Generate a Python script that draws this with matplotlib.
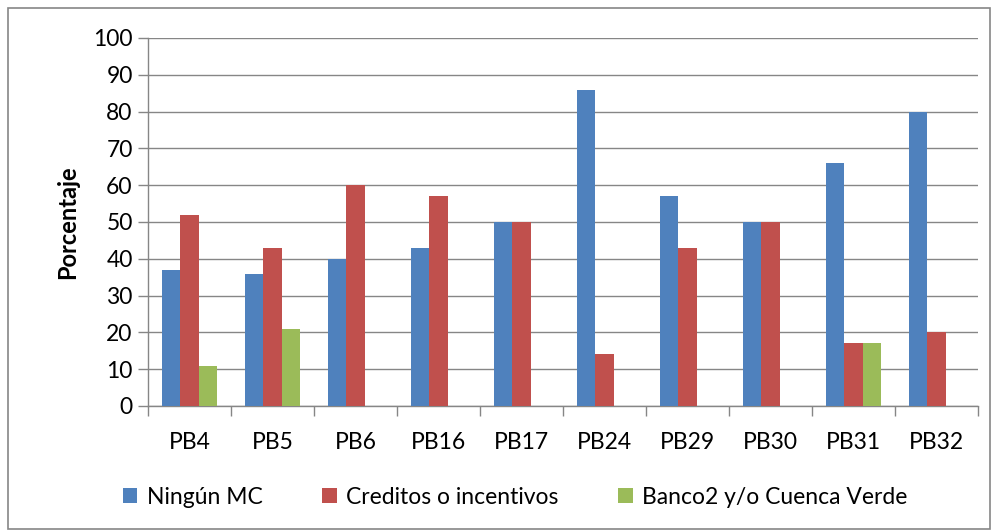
import numpy as np
import matplotlib.pyplot as plt
from matplotlib.patches import Rectangle

categories = ['PB4', 'PB5', 'PB6', 'PB16', 'PB17', 'PB24', 'PB29', 'PB30', 'PB31', 'PB32']
ningun = [37, 36, 40, 43, 50, 86, 57, 50, 66, 80]
creditos = [52, 43, 60, 57, 50, 14, 43, 50, 17, 20]
banco = [11, 21, 0, 0, 0, 0, 0, 0, 17, 0]
series_names = ['Ningún MC', 'Creditos o incentivos', 'Banco2 y/o Cuenca Verde']
colors = ['#4F81BD', '#C0504D', '#9BBB59']

plt.rcParams['font.family'] = ['Lato', 'DejaVu Sans']

fig = plt.figure(figsize=(9.93, 5.31), dpi=100)
ax = fig.add_axes([148 / 993, 1 - 406 / 531, (978 - 148) / 993, (406 - 38) / 531])

x = np.arange(len(categories))
w = 0.22
for i, (vals, name, c) in enumerate(zip([ningun, creditos, banco], series_names, colors)):
    ax.bar(x + (i - 1) * w, vals, w, color=c, label=name, zorder=3)

ax.set_xlim(-0.5, len(categories) - 0.5)
ax.set_ylim(0, 100)
ax.set_yticks(range(0, 101, 10))
ax.set_xticks(x)
ax.set_xticklabels(categories)
ax.set_xticks(np.arange(-0.5, len(categories), 1), minor=True)
ax.tick_params(axis='x', which='major', length=0, pad=19, labelsize=16.5)
ax.tick_params(axis='x', which='minor', length=7, color='#868686', width=1)
ax.tick_params(axis='y', length=7, color='#868686', width=1, labelsize=16.5, pad=4)
ax.grid(axis='y', color='#868686', linewidth=1, zorder=0)
for s in ['top', 'right']:
    ax.spines[s].set_visible(False)
for s in ['left', 'bottom']:
    ax.spines[s].set_color('#868686')
    ax.spines[s].set_linewidth(1)
ax.set_ylabel('Porcentaje', fontsize=17, fontweight='bold', labelpad=10)

ax.legend(loc='center', bbox_to_anchor=(515 / 993, (531 - 497) / 531), bbox_transform=fig.transFigure,
          ncol=3, frameon=False, fontsize=16.5, handlelength=0.65, handleheight=0.65,
          columnspacing=2.6, handletextpad=0.4)

fig.patches.append(Rectangle((8 / 993, 2 / 531), 982 / 993, 521 / 531, transform=fig.transFigure,
                             fill=False, edgecolor='#868686', linewidth=1.2))

fig.savefig('out.png', dpi=100)
